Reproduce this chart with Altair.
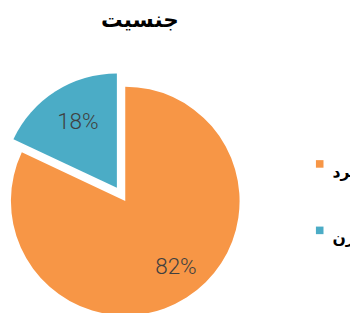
import math
import altair as alt
import pandas as pd

categories = ["مرد", "زن"]
values = [82, 18]
colors = ["#F79646", "#4BACC6"]
title_text = "جنسیت"

df = pd.DataFrame({"category": categories, "value": values})

total = sum(values)
cx, cy = 120, 154
R = 117
explode = 16
label_r = 80

# explode offset for second slice
start_b = values[0] / total * 2 * math.pi
mid_b = start_b + values[1] / total * math.pi
bx = cx + explode * math.sin(mid_b)
by = cy - explode * math.cos(mid_b)

theta_scale = alt.Scale(domain=[0, total], range=[0, 2 * math.pi])
color_scale = alt.Scale(domain=categories, range=colors)

base = (
    alt.Chart(df)
    .transform_window(idx="row_number()")
    .transform_stack(stack="value", groupby=[], as_=["start", "end"], sort=[alt.SortField("idx")])
    .transform_calculate(mid="(datum.start + datum.end) / 2", label="datum.value + '%'")
)

def slice_layers(cat, x0, y0, label_dx):
    b = base.transform_filter(alt.datum.category == cat)
    arc = b.mark_arc(x=x0, y=y0, outerRadius=R).encode(
        theta=alt.Theta("start:Q", scale=theta_scale),
        theta2="end:Q",
        color=alt.Color(
            "category:N",
            scale=color_scale,
            legend=alt.Legend(
                title=None,
                orient="none",
                legendX=311,
                legendY=108,
                direction="vertical",
                symbolType="square",
                symbolSize=60,
                symbolStrokeWidth=0,
                labelFont="DejaVu Sans",
                labelFontWeight="bold",
                labelFontSize=16,
                labelColor="#000000",
                labelBaseline="top",
                labelOffset=5,
                rowPadding=44,
                padding=0,
            ),
        ),
    )
    txt = b.mark_text(
        x=x0, y=y0, radius=label_r, dx=label_dx,
        font="Roboto", fontWeight=300, fontSize=23, color="#404040"
    ).encode(
        theta=alt.Theta("mid:Q", scale=theta_scale),
        text="label:N",
    )
    return [arc, txt]

layers = slice_layers(categories[0], cx, cy, 9) + slice_layers(categories[1], bx, by, 3)

chart = (
    alt.layer(*layers)
    .properties(
        width=350,
        height=265,
        padding={"top": 40, "left": 0, "right": 0, "bottom": 0},
        autosize=alt.AutoSizeParams(type="none"),
        title=alt.TitleParams(
            text=title_text,
            font="DejaVu Sans",
            fontSize=22,
            fontWeight="bold",
            color="#000000",
            anchor="middle",
            dx=-40,
            offset=19,
        ),
    )
    .configure_view(stroke=None)
)

chart.save("out.html", embed_options={"renderer": "svg", "actions": False})
